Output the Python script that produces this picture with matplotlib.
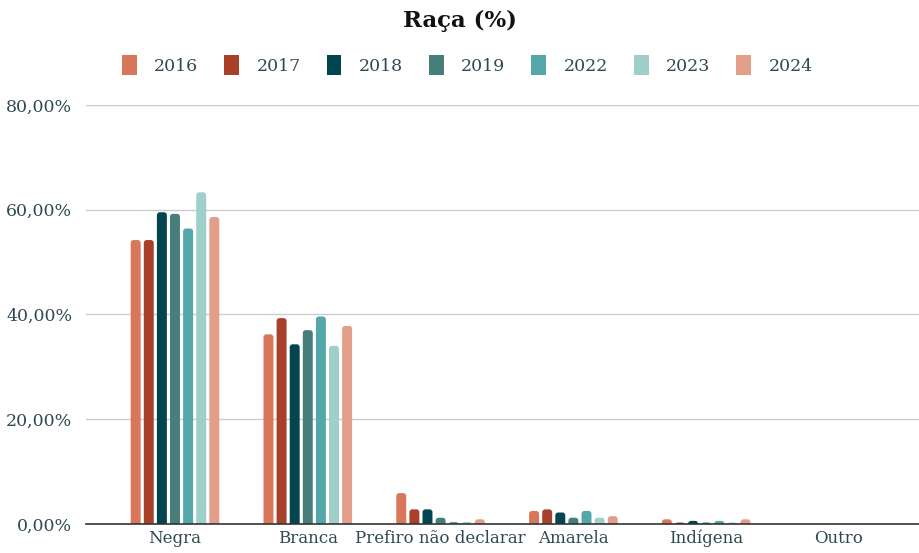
import matplotlib

matplotlib.use("Agg")

import matplotlib.pyplot as plt
import numpy as np
from matplotlib.patches import FancyBboxPatch

categories = ["Negra", "Branca", "Prefiro não declarar", "Amarela", "Indígena", "Outro"]
years = ["2016", "2017", "2018", "2019", "2022", "2023", "2024"]
colors = ["#D9775B", "#A9402A", "#02444F", "#467E7C", "#53A7A8", "#9ECFC8", "#E39E8A"]

v2016 = [54.2, 36.2, 5.9, 2.5, 0.9, 0.0]
v2017 = [54.2, 39.3, 2.8, 2.8, 0.3, 0.0]
v2018 = [59.5, 34.3, 2.8, 2.2, 0.6, 0.0]
v2019 = [59.2, 37.0, 1.2, 1.2, 0.3, 0.0]
v2022 = [56.4, 39.6, 0.4, 2.5, 0.6, 0.0]
v2023 = [63.3, 34.0, 0.4, 1.2, 0.3, 0.0]
v2024 = [58.6, 37.8, 0.9, 1.5, 0.9, 0.0]
series = [v2016, v2017, v2018, v2019, v2022, v2023, v2024]

text_color = "#2E4A4E"
plt.rcParams["font.family"] = ["DejaVu Serif"]

fig = plt.figure(figsize=(9.2, 5.53), dpi=100)
ax = fig.add_axes([0.0935, 0.0524, 0.9065, 0.758])
ax.set_xlim(-0.67, 5.61)
ax.set_ylim(0, 80)

# y-units per x-unit in screen space, so the corner rounding stays circular
bbox = ax.get_window_extent()
aspect = (bbox.width / 6.28) / (bbox.height / 80)

x = np.arange(len(categories))
pitch = 0.0987
width = 0.075
radius = 0.022
for i, (year, vals, col) in enumerate(zip(years, series, colors)):
    offset = (i - 3) * pitch
    bars = ax.bar(x + offset, vals, width=width, color=col, label=year, zorder=3)
    for rect in bars:
        h = rect.get_height()
        if h <= 0:
            rect.set_visible(False)
            continue
        extra = radius * aspect
        patch = FancyBboxPatch((rect.get_x(), -extra), rect.get_width(), h + extra,
                               boxstyle=f"round,pad=0,rounding_size={radius}",
                               mutation_aspect=aspect, facecolor=col,
                               edgecolor="none", zorder=3)
        ax.add_patch(patch)
        rect.set_visible(False)

ax.set_yticks([0, 20, 40, 60, 80])
ax.set_yticklabels(["0,00%", "20,00%", "40,00%", "60,00%", "80,00%"])
ax.set_xticks(x)
ax.set_xticklabels(categories)
ax.tick_params(axis="both", length=0, labelsize=12, labelcolor=text_color)
ax.tick_params(axis="y", pad=10, labelsize=12.5)
ax.tick_params(axis="x", pad=4)
ax.grid(axis="y", color="#CCCCCC", linewidth=1, zorder=0)
for side in ["top", "right", "left"]:
    ax.spines[side].set_visible(False)
ax.spines["bottom"].set_color("#333333")
ax.spines["bottom"].set_linewidth(1.2)
ax.spines["bottom"].set_zorder(4)

fig.text(0.5, 0.962, "Raça (%)", ha="center", va="center", fontsize=16.5,
         fontweight="bold", color="#111111")
handles = [plt.Rectangle((0, 0), 1, 1, facecolor=c, edgecolor="none") for c in colors]
fig.legend(handles, years, loc="center", bbox_to_anchor=(0.508, 0.882), ncol=7,
           frameon=False, fontsize=12.5, handlelength=0.85, handleheight=1.4,
           columnspacing=1.5, handletextpad=1.0, labelcolor=text_color)

fig.savefig("out.png", dpi=100)
